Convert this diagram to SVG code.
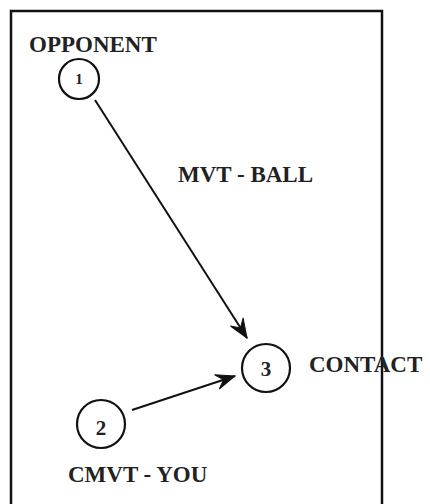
<svg xmlns="http://www.w3.org/2000/svg" width="430" height="504" viewBox="0 0 430 504">
<style>
.frame{fill:none;stroke:#111;stroke-width:2.5}
.node circle{fill:#fff;stroke:#111;stroke-width:2.2}
.lbl{font-family:"Liberation Serif","Times New Roman",serif;font-weight:bold;fill:#222;font-size:23px}
.num{font-family:"Liberation Serif","Times New Roman",serif;font-weight:bold;fill:#222;text-anchor:middle}
.edge{stroke:#111;stroke-width:2;fill:none;marker-end:url(#ah)}
</style>
<defs>
<marker id="ah" markerUnits="userSpaceOnUse" viewBox="-22 -10 24 20" refX="0" refY="0" markerWidth="24" markerHeight="20" orient="auto">
<path d="M0,0 L-19,-7.5 L-12,0 L-19,7.5 Z" fill="#111" stroke="#111" stroke-width="1" stroke-linejoin="miter"/>
</marker>
</defs>
<rect width="430" height="504" fill="#fff"/>
<path class="frame" d="M11,506 L11,11 L382,11 L382,506"/>
<g id="connectors">
<line class="edge" x1="95" y1="100" x2="247" y2="338"/>
<line class="edge" x1="132" y1="410" x2="235" y2="376"/>
</g>
<g id="node1" class="node">
<circle cx="79" cy="79" r="20"/>
<text class="num" x="79" y="84" font-size="15">1</text>
<text class="lbl" x="29" y="52">OPPONENT</text>
</g>
<g id="node3" class="node">
<circle cx="266" cy="368" r="24"/>
<text class="num" x="266" y="376" font-size="21">3</text>
<text class="lbl" x="309" y="372">CONTACT</text>
</g>
<g id="node2" class="node">
<circle cx="101" cy="424" r="24"/>
<text class="num" x="101" y="435" font-size="21">2</text>
<text class="lbl" x="68" y="482">CMVT - YOU</text>
</g>
<text id="edge-label" class="lbl" x="178" y="182">MVT - BALL</text>
</svg>
